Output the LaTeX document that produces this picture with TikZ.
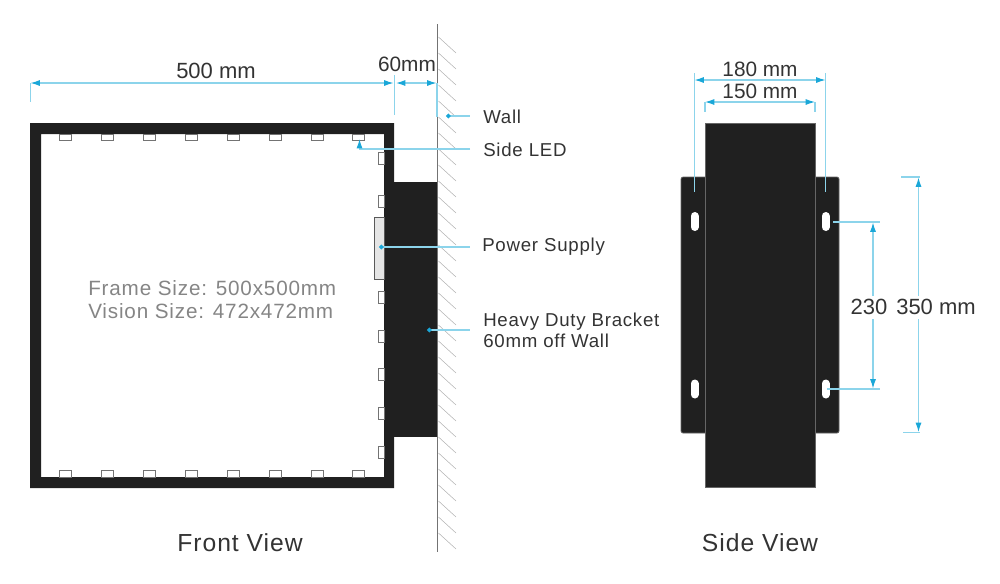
\documentclass[tikz,border=0pt]{standalone}
\usepackage{fontspec}
\setmainfont{Liberation Sans}
\newfontfamily\spacedfont[LetterSpace=4]{Liberation Sans}
\usetikzlibrary{arrows.meta}
\definecolor{mydimline}{RGB}{140,212,235}
\definecolor{mydimtip}{RGB}{26,167,216}
\definecolor{myblack}{RGB}{32,32,32}
\definecolor{mytext}{RGB}{51,51,51}
\tikzset{
    dim/.style={draw=mydimline, line width=0.8pt},
    dimboth/.style={dim, {Latex[length=7pt, width=4.5pt, color=mydimtip]}-{Latex[length=7pt, width=4.5pt, color=mydimtip]}},
    dimend/.style={dim, -{Latex[length=7pt, width=4.5pt, color=mydimtip]}},
    leader/.style={dim, {Circle[length=3.5pt, color=mydimtip]}-},
    led/.style={draw=black!55, fill=white, line width=0.6pt},
    plate/.style={draw=black!60, fill=myblack, line width=0.5pt},
    slot/.style={draw=white, line width=6pt, line cap=round},
    big/.style={text=mytext, font=\fontsize{16.5}{18}\selectfont, inner sep=0pt},
    small/.style={text=mytext, font=\fontsize{15.6}{18}\selectfont, inner sep=0pt},
    title/.style={text=mytext, font=\spacedfont\fontsize{18.5}{20}\selectfont, inner sep=0pt},
    callout/.style={text=mytext, font=\spacedfont\fontsize{14}{15.8}\selectfont, inner sep=0pt, anchor=west, align=left},
    greytext/.style={text=black!48, font=\spacedfont\fontsize{15.5}{17.2}\selectfont, inner sep=0pt, anchor=west, align=left},
}
\begin{document}
\begin{tikzpicture}[x=0.75pt, y=-0.75pt]
    \useasboundingbox (0,0) rectangle (1000,583);

    % wall
    \coordinate (wall-top) at (437.5,24);
    \coordinate (wall-bottom) at (437.5,552);
    \foreach \y in {37,53,...,533}
        \draw[black!30, line width=0.4pt] (438.5,\y) -- ++(17.5,16);
    \draw[black!55, line width=0.7pt] (wall-top) -- (wall-bottom);

    % front view
    \fill[myblack] (394,182) rectangle (437,437);
    \fill[myblack, even odd rule] (30,123) rectangle (394,488) (41,134) rectangle (384,477);
    \foreach \x in {65.5,107,149,191,233,275,317,358} {
        \draw[led] (\x-6,134) rectangle (\x+6,140.5);
        \draw[led] (\x-6,470) rectangle (\x+6,477);
    }
    \foreach \y in {158.5,201,297,336,374,413,452}
        \draw[led] (378,\y-6) rectangle (384,\y+6);
    \draw[black!65, fill=black!10, line width=0.6pt] (374.5,217) rectangle (384,279);

    % front dimensions
    \coordinate (w-left) at (30.5,83);
    \coordinate (w-right) at (393.5,83);
    \coordinate (off-left) at (396,83);
    \coordinate (off-right) at (436.5,83);
    \draw[dimboth] (w-left) -- (w-right);
    \draw[dimboth] (off-left) -- (off-right);
    \draw[dim] (30.5,83) -- (30.5,102);
    \draw[dim] (394.5,75) -- (394.5,115);
    \draw[dim] (437,83) -- (437,117);
    \node[big] (w-label) at (216,71) {500 mm};
    \node[small] (off-label) at (407,64) {60mm};

    % callouts
    \node[callout] (wall-label) at (483,116.5) {Wall};
    \node[callout] (led-label) at (483,150) {Side LED};
    \node[callout] (psu-label) at (482,246.5) {Power Supply};
    \node[callout] (bracket-label) at (483,330.5) {Heavy Duty Bracket\\60mm off Wall};
    \coordinate (wall-dot) at (446,116);
    \coordinate (psu-dot) at (379,247);
    \coordinate (bracket-dot) at (427,330);
    \coordinate (led-tip) at (359.5,139);
    \draw[leader] (wall-dot) -- (470,116);
    \draw[leader] (psu-dot) -- (470,247);
    \draw[leader] (bracket-dot) -- (470,330);
    \draw[dimend] (470,149) -- (359.5,149) -- (led-tip);

    \node[greytext] (frame-label) at (88,299.5) {Frame Size: 500x500mm\\Vision Size: 472x472mm};
    \node[title] (front-label) at (240,543) {Front View};

    % side view
    \draw[plate, rounded corners=1.5pt] (681,177) rectangle (839,433);
    \draw[plate] (705,123) rectangle (815,487);
    \foreach \x in {694.5,825.5}
        \foreach \y in {221.5,389}
            \draw[slot] (\x,\y-5.5) -- (\x,\y+5.5);

    % side dimensions
    \draw[dimboth] (694.5,80) -- (825.5,80);
    \draw[dim] (694.5,73) -- (694.5,192);
    \draw[dim] (825.5,73) -- (825.5,192);
    \draw[dimboth] (705,102) -- (815,102);
    \draw[dim] (705,102) -- (705,112);
    \draw[dim] (815,102) -- (815,112);
    \node[small] (outer-label) at (760,69) {180 mm};
    \node[small] (inner-label) at (760,91) {150 mm};

    \draw[dim] (833,222) -- (880,222);
    \draw[dim] (827,389) -- (880,389);
    \draw[dim] (901,177) -- (920,177);
    \draw[dim] (903,432.5) -- (920,432.5);
    \node[big] (gap-label) at (869,307) {230};
    \node[big] (height-label) at (936,307) {350 mm};
    \draw[dimend] (873,296) -- (873,222.5);
    \draw[dimend] (873,319) -- (873,388.5);
    \draw[dimend] (918.5,296) -- (918.5,177.5);
    \draw[dimend] (918.5,319) -- (918.5,432);
    \node[title] (side-label) at (760,543) {Side View};
\end{tikzpicture}
\end{document}
